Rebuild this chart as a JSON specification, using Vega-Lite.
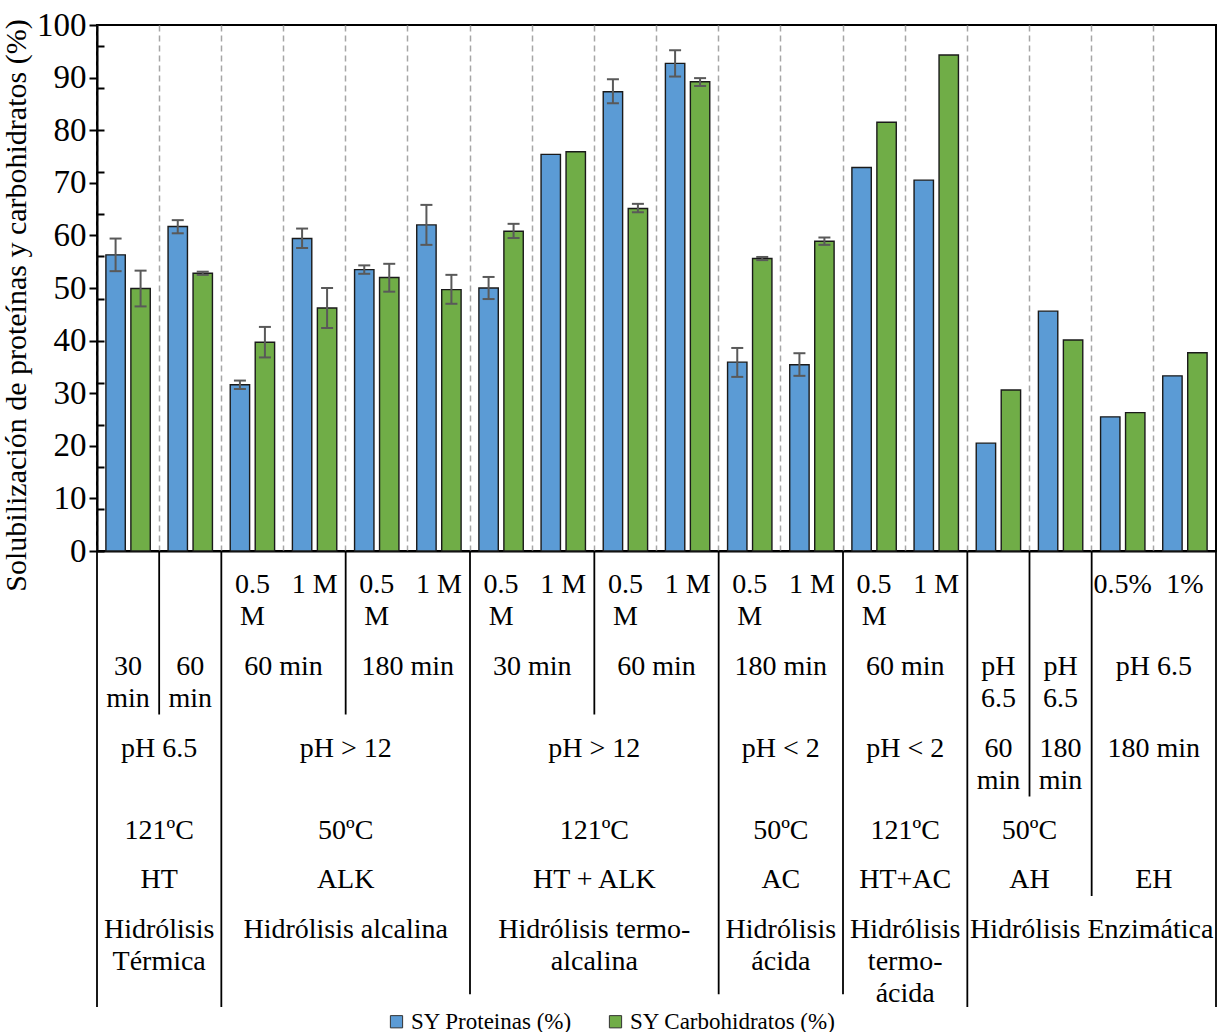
{
  "$schema": "https://vega.github.io/schema/vega-lite/v6.json",
  "padding": {"left": 0, "top": 8, "right": 1, "bottom": 0},
  "spacing": 0,
  "bounds": "flush",
  "datasets": {
    "barras": [
      {"cat": 0, "serie": "SY Proteinas (%)", "valor": 56.3},
      {"cat": 0, "serie": "SY Carbohidratos (%)", "valor": 49.9},
      {"cat": 1, "serie": "SY Proteinas (%)", "valor": 61.7},
      {"cat": 1, "serie": "SY Carbohidratos (%)", "valor": 52.8},
      {"cat": 2, "serie": "SY Proteinas (%)", "valor": 31.6},
      {"cat": 2, "serie": "SY Carbohidratos (%)", "valor": 39.7},
      {"cat": 3, "serie": "SY Proteinas (%)", "valor": 59.4},
      {"cat": 3, "serie": "SY Carbohidratos (%)", "valor": 46.2},
      {"cat": 4, "serie": "SY Proteinas (%)", "valor": 53.5},
      {"cat": 4, "serie": "SY Carbohidratos (%)", "valor": 52.0},
      {"cat": 5, "serie": "SY Proteinas (%)", "valor": 62.0},
      {"cat": 5, "serie": "SY Carbohidratos (%)", "valor": 49.7},
      {"cat": 6, "serie": "SY Proteinas (%)", "valor": 50.0},
      {"cat": 6, "serie": "SY Carbohidratos (%)", "valor": 60.8},
      {"cat": 7, "serie": "SY Proteinas (%)", "valor": 75.4},
      {"cat": 7, "serie": "SY Carbohidratos (%)", "valor": 75.9},
      {"cat": 8, "serie": "SY Proteinas (%)", "valor": 87.3},
      {"cat": 8, "serie": "SY Carbohidratos (%)", "valor": 65.1},
      {"cat": 9, "serie": "SY Proteinas (%)", "valor": 92.7},
      {"cat": 9, "serie": "SY Carbohidratos (%)", "valor": 89.2},
      {"cat": 10, "serie": "SY Proteinas (%)", "valor": 35.9},
      {"cat": 10, "serie": "SY Carbohidratos (%)", "valor": 55.6},
      {"cat": 11, "serie": "SY Proteinas (%)", "valor": 35.4},
      {"cat": 11, "serie": "SY Carbohidratos (%)", "valor": 58.9},
      {"cat": 12, "serie": "SY Proteinas (%)", "valor": 72.9},
      {"cat": 12, "serie": "SY Carbohidratos (%)", "valor": 81.5},
      {"cat": 13, "serie": "SY Proteinas (%)", "valor": 70.5},
      {"cat": 13, "serie": "SY Carbohidratos (%)", "valor": 94.3},
      {"cat": 14, "serie": "SY Proteinas (%)", "valor": 20.5},
      {"cat": 14, "serie": "SY Carbohidratos (%)", "valor": 30.6},
      {"cat": 15, "serie": "SY Proteinas (%)", "valor": 45.6},
      {"cat": 15, "serie": "SY Carbohidratos (%)", "valor": 40.1},
      {"cat": 16, "serie": "SY Proteinas (%)", "valor": 25.5},
      {"cat": 16, "serie": "SY Carbohidratos (%)", "valor": 26.3},
      {"cat": 17, "serie": "SY Proteinas (%)", "valor": 33.3},
      {"cat": 17, "serie": "SY Carbohidratos (%)", "valor": 37.7}
    ],
    "errores": [
      {"cat": 0, "serie": "SY Proteinas (%)", "inf": 53.2, "sup": 59.4},
      {"cat": 0, "serie": "SY Carbohidratos (%)", "inf": 46.5, "sup": 53.3},
      {"cat": 1, "serie": "SY Proteinas (%)", "inf": 60.4, "sup": 62.9},
      {"cat": 1, "serie": "SY Carbohidratos (%)", "inf": 52.5, "sup": 53.1},
      {"cat": 2, "serie": "SY Proteinas (%)", "inf": 30.8, "sup": 32.4},
      {"cat": 2, "serie": "SY Carbohidratos (%)", "inf": 36.8, "sup": 42.6},
      {"cat": 3, "serie": "SY Proteinas (%)", "inf": 57.6, "sup": 61.3},
      {"cat": 3, "serie": "SY Carbohidratos (%)", "inf": 42.4, "sup": 50.0},
      {"cat": 4, "serie": "SY Proteinas (%)", "inf": 52.7, "sup": 54.3},
      {"cat": 4, "serie": "SY Carbohidratos (%)", "inf": 49.3, "sup": 54.6},
      {"cat": 5, "serie": "SY Proteinas (%)", "inf": 58.2, "sup": 65.8},
      {"cat": 5, "serie": "SY Carbohidratos (%)", "inf": 47.0, "sup": 52.5},
      {"cat": 6, "serie": "SY Proteinas (%)", "inf": 47.9, "sup": 52.1},
      {"cat": 6, "serie": "SY Carbohidratos (%)", "inf": 59.5, "sup": 62.2},
      {"cat": 8, "serie": "SY Proteinas (%)", "inf": 85.1, "sup": 89.7},
      {"cat": 8, "serie": "SY Carbohidratos (%)", "inf": 64.4, "sup": 66.0},
      {"cat": 9, "serie": "SY Proteinas (%)", "inf": 90.2, "sup": 95.2},
      {"cat": 9, "serie": "SY Carbohidratos (%)", "inf": 88.4, "sup": 89.9},
      {"cat": 10, "serie": "SY Proteinas (%)", "inf": 33.1, "sup": 38.6},
      {"cat": 10, "serie": "SY Carbohidratos (%)", "inf": 55.3, "sup": 55.9},
      {"cat": 11, "serie": "SY Proteinas (%)", "inf": 33.3, "sup": 37.6},
      {"cat": 11, "serie": "SY Carbohidratos (%)", "inf": 58.2, "sup": 59.6}
    ],
    "lineas": [
      {"pos": 0, "fin": 7},
      {"pos": 1, "fin": 2.75},
      {"pos": 2, "fin": 7},
      {"pos": 4, "fin": 2.75},
      {"pos": 6, "fin": 6.86},
      {"pos": 8, "fin": 2.75},
      {"pos": 10, "fin": 6.86},
      {"pos": 12, "fin": 6.86},
      {"pos": 14, "fin": 7},
      {"pos": 15, "fin": 3.75},
      {"pos": 16, "fin": 5.6},
      {"pos": 18, "fin": 7}
    ],
    "etiquetas": [
      {"centro": 2.5, "nivel": 1, "texto": "0.5\nM"},
      {"centro": 3.5, "nivel": 1, "texto": "1 M"},
      {"centro": 4.5, "nivel": 1, "texto": "0.5\nM"},
      {"centro": 5.5, "nivel": 1, "texto": "1 M"},
      {"centro": 6.5, "nivel": 1, "texto": "0.5\nM"},
      {"centro": 7.5, "nivel": 1, "texto": "1 M"},
      {"centro": 8.5, "nivel": 1, "texto": "0.5\nM"},
      {"centro": 9.5, "nivel": 1, "texto": "1 M"},
      {"centro": 10.5, "nivel": 1, "texto": "0.5\nM"},
      {"centro": 11.5, "nivel": 1, "texto": "1 M"},
      {"centro": 12.5, "nivel": 1, "texto": "0.5\nM"},
      {"centro": 13.5, "nivel": 1, "texto": "1 M"},
      {"centro": 16.5, "nivel": 1, "texto": "0.5%"},
      {"centro": 17.5, "nivel": 1, "texto": "1%"},
      {"centro": 0.5, "nivel": 2, "texto": "30\nmin"},
      {"centro": 1.5, "nivel": 2, "texto": "60\nmin"},
      {"centro": 3, "nivel": 2, "texto": "60 min"},
      {"centro": 5, "nivel": 2, "texto": "180 min"},
      {"centro": 7, "nivel": 2, "texto": "30 min"},
      {"centro": 9, "nivel": 2, "texto": "60 min"},
      {"centro": 11, "nivel": 2, "texto": "180 min"},
      {"centro": 13, "nivel": 2, "texto": "60 min"},
      {"centro": 14.5, "nivel": 2, "texto": "pH\n6.5"},
      {"centro": 15.5, "nivel": 2, "texto": "pH\n6.5"},
      {"centro": 17, "nivel": 2, "texto": "pH 6.5"},
      {"centro": 1, "nivel": 3, "texto": "pH 6.5"},
      {"centro": 4, "nivel": 3, "texto": "pH > 12"},
      {"centro": 8, "nivel": 3, "texto": "pH > 12"},
      {"centro": 11, "nivel": 3, "texto": "pH < 2"},
      {"centro": 13, "nivel": 3, "texto": "pH < 2"},
      {"centro": 14.5, "nivel": 3, "texto": "60\nmin"},
      {"centro": 15.5, "nivel": 3, "texto": "180\nmin"},
      {"centro": 17, "nivel": 3, "texto": "180 min"},
      {"centro": 1, "nivel": 4, "texto": "121ºC"},
      {"centro": 4, "nivel": 4, "texto": "50ºC"},
      {"centro": 8, "nivel": 4, "texto": "121ºC"},
      {"centro": 11, "nivel": 4, "texto": "50ºC"},
      {"centro": 13, "nivel": 4, "texto": "121ºC"},
      {"centro": 15, "nivel": 4, "texto": "50ºC"},
      {"centro": 1, "nivel": 5, "texto": "HT"},
      {"centro": 4, "nivel": 5, "texto": "ALK"},
      {"centro": 8, "nivel": 5, "texto": "HT + ALK"},
      {"centro": 11, "nivel": 5, "texto": "AC"},
      {"centro": 13, "nivel": 5, "texto": "HT+AC"},
      {"centro": 15, "nivel": 5, "texto": "AH"},
      {"centro": 17, "nivel": 5, "texto": "EH"},
      {"centro": 1, "nivel": 6, "texto": "Hidrólisis\nTérmica"},
      {"centro": 4, "nivel": 6, "texto": "Hidrólisis alcalina"},
      {"centro": 8, "nivel": 6, "texto": "Hidrólisis termo-\nalcalina"},
      {"centro": 11, "nivel": 6, "texto": "Hidrólisis\nácida"},
      {"centro": 13, "nivel": 6, "texto": "Hidrólisis\ntermo-\nácida"},
      {"centro": 16, "nivel": 6, "texto": "Hidrólisis Enzimática"}
    ]
  },
  "vconcat": [
    {
      "width": 1119,
      "height": 526,
      "view": {"stroke": "#000000", "strokeWidth": 2},
      "resolve": {"axis": {"y": "independent"}},
      "layer": [
        {
          "data": {"name": "barras"},
          "mark": {"type": "bar", "stroke": "#1a1a1a", "strokeWidth": 1.4},
          "encoding": {
            "x": {
              "field": "cat", "type": "ordinal",
              "scale": {"domain": [0,1,2,3,4,5,6,7,8,9,10,11,12,13,14,15,16,17], "paddingInner": 0, "paddingOuter": 0},
              "axis": {"grid": true, "bandPosition": 0, "gridDash": [6, 4], "gridColor": "#a6a6a6", "gridWidth": 1.5, "labels": false, "ticks": false, "domainColor": "#000000", "domainWidth": 2, "title": null}
            },
            "xOffset": {
              "field": "serie", "type": "nominal",
              "scale": {"domain": ["SY Proteinas (%)", "SY Carbohidratos (%)"], "paddingInner": 0.224, "paddingOuter": 0.356}
            },
            "y": {
              "field": "valor", "type": "quantitative",
              "scale": {"domain": [0, 100], "nice": false},
              "axis": {
                "orient": "left",
                "values": [0,10,20,30,40,50,60,70,80,90,100],
                "tickSize": 8, "tickWidth": 2, "tickColor": "#000000",
                "domainColor": "#000000", "domainWidth": 2,
                "labelFont": "Liberation Serif", "labelFontSize": 33, "labelColor": "#000000", "labelPadding": 3,
                "title": "Solubilización de proteínas y carbohidratos (%)",
                "titleFont": "Liberation Serif", "titleFontSize": 30, "titleFontWeight": "normal", "titleColor": "#000000", "titlePadding": 5,
                "titleY": 280,
                "grid": false
              }
            },
            "color": {
              "field": "serie", "type": "nominal",
              "scale": {"domain": ["SY Proteinas (%)", "SY Carbohidratos (%)"], "range": ["#5b9bd5", "#70ad47"]},
              "legend": {"orient": "none", "legendX": 288, "legendY": 985, "direction": "horizontal", "title": null}
            }
          }
        },
        {
          "data": {"name": "errores"},
          "layer": [
            {
              "mark": {"type": "rule", "color": "#595959", "strokeWidth": 2},
              "encoding": {
                "x": {"field": "cat", "type": "ordinal"},
                "xOffset": {"field": "serie", "type": "nominal"},
                "y": {
                  "field": "inf", "type": "quantitative",
                  "axis": {"orient": "left", "values": [0,2,4,6,8,10,12,14,16,18,20,22,24,26,28,30,32,34,36,38,40,42,44,46,48,50,52,54,56,58,60,62,64,66,68,70,72,74,76,78,80,82,84,86,88,90,92,94,96,98,100], "tickSize": -7, "tickWidth": 2, "tickColor": "#000000", "labels": false, "domain": false, "title": null, "grid": false}
                },
                "y2": {"field": "sup"}
              }
            },
            {
              "mark": {"type": "tick", "color": "#595959", "thickness": 2, "size": 12, "opacity": 1},
              "encoding": {
                "x": {"field": "cat", "type": "ordinal"},
                "xOffset": {"field": "serie", "type": "nominal"},
                "y": {"field": "inf", "type": "quantitative"}
              }
            },
            {
              "mark": {"type": "tick", "color": "#595959", "thickness": 2, "size": 12, "opacity": 1},
              "encoding": {
                "x": {"field": "cat", "type": "ordinal"},
                "xOffset": {"field": "serie", "type": "nominal"},
                "y": {"field": "sup", "type": "quantitative"}
              }
            }
          ]
        }
      ]
    },
    {
      "width": 1119,
      "height": 456,
      "view": {"stroke": null},
      "layer": [
        {
          "data": {"name": "lineas"},
          "mark": {"type": "rule", "color": "#000000", "strokeWidth": 1.8},
          "encoding": {
            "x": {"field": "pos", "type": "quantitative", "scale": {"domain": [0, 18], "nice": false, "zero": false}, "axis": null},
            "y": {"field": "fin", "type": "quantitative", "scale": {"domain": [0,1,2,3,4,5,6,7], "range": [0,20,102,184,266,315,365,456], "nice": false, "zero": false}, "axis": null},
            "y2": {"datum": 0}
          }
        },
        {
          "data": {"name": "etiquetas"},
          "mark": {"type": "text", "font": "Liberation Serif", "fontSize": 28, "baseline": "top", "align": "center", "lineBreak": "\n", "lineHeight": 32, "color": "#000000"},
          "encoding": {
            "x": {"field": "centro", "type": "quantitative", "axis": null},
            "y": {"field": "nivel", "type": "quantitative", "axis": null},
            "text": {"field": "texto"}
          }
        }
      ]
    }
  ],
  "config": {
    "font": "Liberation Serif",
    "legend": {
      "symbolType": "square", "symbolSize": 150, "symbolStrokeColor": "#333333", "symbolStrokeWidth": 1,
      "labelFont": "Liberation Serif", "labelFontSize": 23, "labelColor": "#000000", "labelLimit": 0, "labelOffset": 3,
      "columnPadding": 32, "padding": 0
    }
  }
}
